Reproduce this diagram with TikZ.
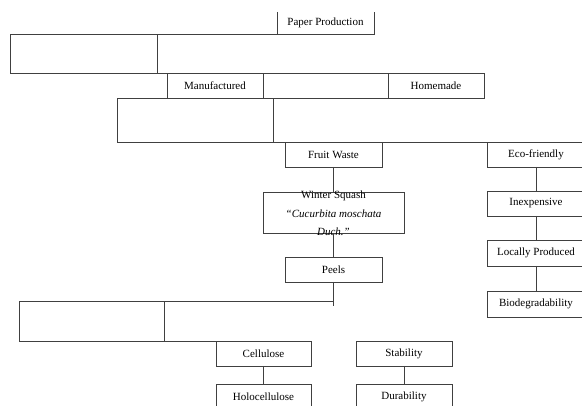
\documentclass[tikz,border=0pt]{standalone}
\usepackage{fontspec}
\setmainfont{Liberation Serif}
\usepackage{tikz}
\usetikzlibrary{shapes,arrows, positioning}
\tikzstyle{box} = [rectangle, draw, inner sep = 0pt, outer sep = 0pt, minimum height = 25pt, font=\fontsize{11}{13}\selectfont]
\tikzstyle{blank} = [rectangle, draw, inner sep = 0pt, outer sep = 0pt]
\tikzstyle{line} = [draw]

\begin{document}
\begin{tikzpicture}[x=1pt, y=-1pt, line width=0.6pt, color=black!75, text=black]
			\useasboundingbox (0,0) rectangle (582,406);
			\node [box, draw=none, minimum width = 97pt, minimum height = 22pt] (paper) at (325.5, 23) {Paper Production};
			\node [blank, minimum width = 147pt, minimum height = 39pt] (blank1) at (83.5, 53.5) {};
			\node [box, minimum width = 96pt] (manu) at (215, 85.5) {Manufactured};
			\node [box, minimum width = 125pt] (mid) at (325.5, 85.5) {};
			\node [box, minimum width = 96pt] (home) at (436, 85.5) {Homemade};
			\node [blank, minimum width = 156pt, minimum height = 44pt] (blank2) at (195, 120) {};
			\node [box, minimum width = 97pt] (fruit) at (333.5, 154.5) {Fruit Waste};
			\node [box, minimum width = 141pt, minimum height = 41pt] (squash) at (333.5, 212.5) {};
			\node [align=center, inner sep = 0pt, font=\fontsize{11}{18.5}\selectfont] (squashtxt) at (333.5, 213.5) {Winter Squash\\ \textit{“Cucurbita moschata}\\ \textit{Duch.”}};
			\node [box, minimum width = 97pt] (peels) at (333.5, 269.5) {Peels};
			\node [blank, minimum width = 145pt, minimum height = 40pt] (blank3) at (91.5, 321) {};
			\node [box, minimum width = 95pt] (cell) at (263.5, 353.5) {Cellulose};
			\node [box, minimum width = 96pt] (stab) at (404, 353.5) {Stability};
			\node [box, minimum width = 95pt] (holo) at (263.5, 396.5) {Holocellulose};
			\node [box, minimum width = 96pt] (dura) at (404, 396.5) {Durability};
			\node [box, minimum width = 98pt] (eco) at (536, 154.5) {Eco-friendly};
			\node [box, minimum width = 98pt] (inexp) at (536, 203.5) {Inexpensive};
			\node [box, minimum width = 98pt, minimum height = 26pt] (local) at (536, 253) {Locally Produced};
			\node [box, minimum width = 98pt, minimum height = 26pt] (bio) at (536, 304) {Biodegradability};
			\coordinate (edge) at (590, 142);
			\coordinate (joint) at (333.5, 301);
			\coordinate (peelsend) at (333.5, 306);
			
			\path [line] (paper.north west) -- (paper.south west) -- (paper.south east) -- (paper.north east);
			\path [line] (blank1.north east) -- (paper.south west);
			\path [line] (blank1.south east) -- (manu.north west);
			\path [line] (blank2.south east) -- (edge);
			\path [line] (fruit) -- (squash);
			\path [line] (squash) -- (peels);
			\path [line] (peels) -- (peelsend);
			\path [line] (blank3.north east) -- (joint);
			\path [line] (blank3.south east) -- (cell.north west);
			\path [line] (cell) -- (holo);
			\path [line] (stab) -- (dura);
			\path [line] (eco) -- (inexp);
			\path [line] (inexp) -- (local);
			\path [line] (local) -- (bio);
		\end{tikzpicture}
\end{document}
